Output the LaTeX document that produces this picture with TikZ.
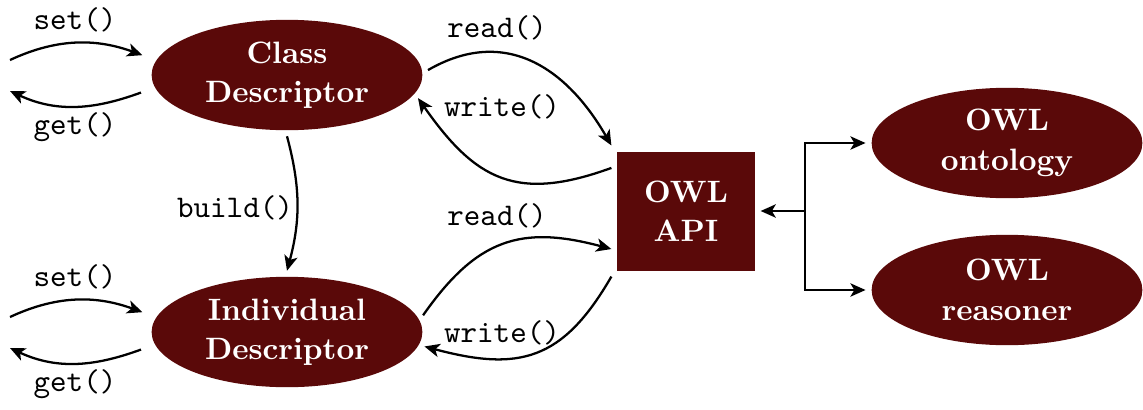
\documentclass[tikz,border=0pt]{standalone}
\usetikzlibrary{shapes.geometric, arrows.meta}

\definecolor{owlred}{RGB}{90,9,9}

\begin{document}
\begin{tikzpicture}[x=0.0116cm, y=0.0116cm, line width=0.75pt,
    >={Stealth[length=5pt, width=4.4pt, inset=1.3pt]},
    descr/.style={ellipse, fill=owlred, text=white, align=center, inner sep=0pt, outer sep=2pt,
        minimum width=3.14cm, minimum height=1.28cm, font=\fontsize{10.2}{13}\selectfont\bfseries},
    apibox/.style={rectangle, fill=owlred, text=white, align=center, outer sep=2pt,
        minimum width=1.59cm, minimum height=1.38cm, font=\fontsize{10.2}{13}\selectfont\bfseries},
    call/.style={font=\fontsize{10.4}{12}\selectfont\ttfamily}]
    \useasboundingbox (0,0) rectangle (1143,409);

    \node[descr] (cd) at (287,334) {Class\\Descriptor};
    \node[descr] (id) at (287,77) {Individual\\Descriptor};
    \node[apibox] (api) at (686,198) {OWL\\API};
    \node[descr] (onto) at (1007,266) {OWL\\ontology};
    \node[descr] (reas) at (1007,119) {OWL\\reasoner};

    \foreach \n/\y in {cd/334, id/77} {
        \coordinate (\n-setfrom) at (10, \y+15);
        \coordinate (\n-getto) at (10, \y-16);
        \draw[->, shorten >=3pt] (\n-setfrom) to[out=25, in=160] (\n.173);
        \draw[->, shorten <=3pt] (\n.186) to[out=200, in=-25] (\n-getto);
        \node[call] (\n-set) at (75, \y+55) {set()};
        \node[call] (\n-get) at (75, \y-52) {get()};
    }

    \draw[->] (cd.south) to[out=-75, in=75] (id.north);
    \node[call] (build) at (235,201) {build()};

    \draw[->] (cd.2) to[out=30, in=120, looseness=1.15] (api.north west);
    \draw[->] (api.150) to[out=200, in=-55, looseness=1.25] (cd.350);
    \draw[->] (id.7) to[out=55, in=165, looseness=1.2] (api.207);
    \draw[->] (api.south west) to[out=240, in=-15, looseness=1.25] (id.-6);
    \node[call] (readA) at (497,381) {read()};
    \node[call] (writeA) at (502,302) {write()};
    \node[call] (readB) at (497,193) {read()};
    \node[call] (writeB) at (502,76) {write()};

    \coordinate (split) at (805,198);
    \draw[->] (split) -- (api.east);
    \draw[->] (split) |- (onto.west);
    \draw[->] (split) |- (reas.west);
\end{tikzpicture}
\end{document}
